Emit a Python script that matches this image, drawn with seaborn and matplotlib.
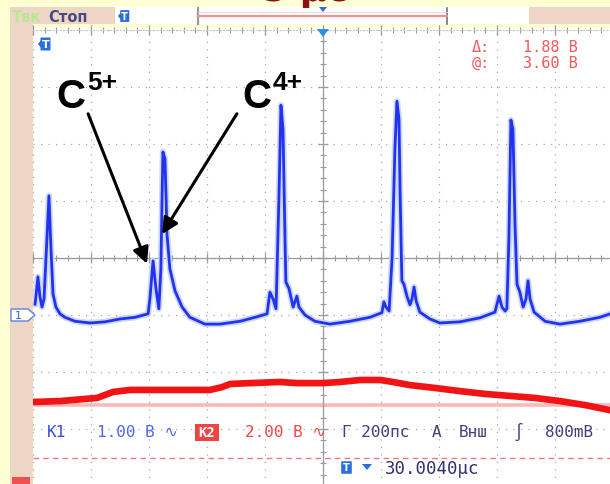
import matplotlib
matplotlib.use("Agg")
import matplotlib.pyplot as plt
import numpy as np
import pandas as pd
import seaborn as sns
from matplotlib.patches import Rectangle, Polygon, FancyBboxPatch
from matplotlib.ticker import MultipleLocator

# Channel 1 (blue): time in ns relative to trigger, voltage in V relative to CH1 ground
ch1_time_ns = [-993, -990, -983, -976, -969, -962, -952, -945, -938, -931, -921, -907,
               -890, -855, -803, -752, -700, -648, -603, -597, -586, -576, -566, -559,
               -555, -552, -545, -541, -538, -528, -510, -486, -459, -407, -355, -286,
               -234, -193, -183, -172, -162, -152, -145, -138, -131, -128, -117, -103,
               -90, -83, -62, -28, 24, 93, 162, 203, 210, 217, 228, 238, 248, 255, 262,
               266, 272, 279, 290, 300, 307, 314, 321, 334, 369, 403, 472, 541, 593,
               607, 617, 628, 634, 641, 648, 655, 662, 669, 679, 690, 700, 707, 714,
               728, 766, 817, 886, 955, 990]
ch1_volts = [0.19, 0.32, 0.67, 0.32, 0.14, 0.28, 1.33, 2.09, 1.16, 0.37, 0.14, 0.02,
             -0.04, -0.11, -0.14, -0.12, -0.07, -0.04, 0.02, 0.28, 0.95, 0.46, 0.11, 0.81,
             2.04, 2.86, 2.74, 2.04, 1.42, 0.81, 0.42, 0.14, -0.04, -0.16, -0.16, -0.11,
             -0.04, 0.02, 0.40, 0.28, 0.11, 2.04, 3.68, 3.26, 1.33, 0.58, 0.46, 0.14,
             0.33, 0.14, 0.00, -0.11, -0.16, -0.11, -0.04, 0.04, 0.23, 0.14, 0.07, 0.98,
             2.91, 3.75, 3.44, 2.12, 0.60, 0.54, 0.32, 0.18, 0.28, 0.49, 0.25, 0.05,
             -0.07, -0.14, -0.12, -0.05, 0.05, 0.33, 0.14, 0.07, 0.11, 1.33, 3.42, 3.26,
             1.60, 0.54, 0.40, 0.14, 0.28, 0.60, 0.28, 0.05, -0.11, -0.16, -0.11, -0.04,
             0.02]

# Channel 2 (red): time in ns, voltage in V relative to CH2 ground
ch2_time_ns = [-993, -907, -779, -724, -666, -493, -390, -348, -321, -252, -148, -90, 0,
               59, 128, 197, 241, 300, 386, 472, 559, 645, 731, 817, 903, 990]
ch2_volts = [0.11, 0.14, 0.25, 0.46, 0.53, 0.53, 0.53, 0.63, 0.74, 0.77, 0.81, 0.77, 0.77,
             0.81, 0.88, 0.88, 0.81, 0.70, 0.60, 0.49, 0.39, 0.32, 0.25, 0.14, 0.00, -0.18]

ch1_v_per_div = 1.0
ch2_v_per_div = 2.0
ch1_ground_div = -1.0
ch2_ground_div = -2.58
trigger_level_div = -3.51
time_per_div_ns = 200

# ---------------- figure ----------------
W, H = 610, 485
plt.rcParams['font.family'] = ['DejaVu Sans']
fig = plt.figure(figsize=(W / 100, H / 100), dpi=100, facecolor='#FFFFD4')

bg = fig.add_axes([0, 0, 1, 1], zorder=0)
bg.set_xlim(0, W); bg.set_ylim(H, 0); bg.axis('off')

BEIGE = '#EDD6C6'
bg.add_patch(Rectangle((10, 8), 600, 17, facecolor=BEIGE, edgecolor='none'))
bg.add_patch(Rectangle((10, 8), 23, 477, facecolor=BEIGE, edgecolor='none'))
bg.add_patch(Rectangle((115, 8), 414, 17, facecolor='white', edgecolor='none'))
bg.add_patch(Rectangle((33, 29), 577, 456, facecolor='white', edgecolor='none'))

# ---------------- main scope axes ----------------
ax = fig.add_axes([33 / W, -2 / H, 580 / W, 456 / H], zorder=1)
ax.set_facecolor('white')
ax.set_xlim(-5 * time_per_div_ns, 5 * time_per_div_ns)
ax.set_ylim(-4, 4)

ax.xaxis.set_major_locator(MultipleLocator(time_per_div_ns))
ax.xaxis.set_minor_locator(MultipleLocator(time_per_div_ns / 5))
ax.yaxis.set_major_locator(MultipleLocator(1))
ax.yaxis.set_minor_locator(MultipleLocator(0.2))
ax.grid(True, which='major', color='#A8A8A8', linestyle=(0, (1, 5)), linewidth=0.9)
ax.spines['right'].set_visible(False)
ax.spines['left'].set_position(('data', 0))
ax.spines['bottom'].set_position(('data', 0))
for s in ['left', 'bottom']:
    ax.spines[s].set_color('#9A9A9A')
    ax.spines[s].set_linewidth(0.9)
ax.spines['top'].set_color('#C8C8C8')
ax.spines['top'].set_linestyle((0, (1, 2)))
ax.tick_params(which='both', bottom=True, left=True, top=True, right=False,
               labelbottom=False, labelleft=False, color='#9A9A9A')
ax.tick_params(which='major', direction='inout', length=7, width=0.9)
ax.tick_params(which='minor', direction='inout', length=4, width=0.8)

df1 = pd.DataFrame({'t': ch1_time_ns,
                    'div': np.array(ch1_volts) / ch1_v_per_div + ch1_ground_div})
df2 = pd.DataFrame({'t': ch2_time_ns,
                    'div': np.array(ch2_volts) / ch2_v_per_div + ch2_ground_div})

# CH2 reference line and trigger level
ax.axhline(ch2_ground_div, color='#FFB8B8', lw=2.6, zorder=2)
ax.axhline(trigger_level_div, color='#F07878', lw=1.0, ls=(0, (4, 3)), zorder=2)

sns.lineplot(data=df2, x='t', y='div', ax=ax, color='#F01414', lw=4.8, sort=False,
             estimator=None, zorder=4)
sns.lineplot(data=df1, x='t', y='div', ax=ax, color='#CBD8F7', lw=4.5, sort=False,
             estimator=None, zorder=4)
sns.lineplot(data=df1, x='t', y='div', ax=ax, color='#2232EE', lw=2.0, sort=False,
             estimator=None, zorder=5)
ax.set_xlabel(''); ax.set_ylabel('')
if ax.get_legend():
    ax.get_legend().remove()

# annotation arrows
arrow_kw = dict(arrowstyle='-|>', color='black', lw=2.2, mutation_scale=24,
                shrinkA=0, shrinkB=0)
ax.annotate('', xy=(-607, -0.10), xytext=(-810, 2.53), arrowprops=arrow_kw, zorder=6)
ax.annotate('', xy=(-555, 0.42), xytext=(-297, 2.53), arrowprops=arrow_kw, zorder=6)

# ---------------- overlay (texts / icons) ----------------
ov = fig.add_axes([0, 0, 1, 1], zorder=3)
ov.set_xlim(0, W); ov.set_ylim(H, 0); ov.axis('off')
ov.patch.set_alpha(0)

# title cut off at the top edge, as in the capture
ov.text(305, 1, '5 μс', color='#8B1010', fontsize=26, fontweight='bold',
        ha='center', va='baseline', clip_on=False)

# top bar contents
ov.text(12, 17, 'Твк', color='#B8E890', fontsize=10.5, fontweight='bold', va='center')
ov.text(48, 17, 'Стоп', color='#4A4A80', fontsize=10.5, fontweight='bold', va='center')


def t_icon(x, y, size=1.0):
    ov.add_patch(FancyBboxPatch((x + 3 * size, y - 6 * size), 9 * size, 12 * size,
                                boxstyle='round,pad=0.5', facecolor='#2A6FE0',
                                edgecolor='none'))
    ov.add_patch(Polygon([(x, y), (x + 4 * size, y - 5 * size), (x + 4 * size, y + 5 * size)],
                         closed=True, facecolor='#2A6FE0', edgecolor='none'))
    ov.text(x + 7.5 * size, y + 0.5, 'T', color='white', fontsize=8 * size,
            fontweight='bold', ha='center', va='center')


t_icon(118, 17, 0.9)
t_icon(38, 45, 1.0)

# horizontal position bracket
ov.plot([198, 198], [9, 25], color='#9A9A9A', lw=1.6)
ov.plot([447, 447], [9, 25], color='#707080', lw=1.2)
ov.plot([198, 447], [17, 17], color='#F29090', lw=1.6)
ov.plot([198, 447], [13, 13], color='#F0D0D0', lw=0.6)
ov.add_patch(Polygon([(319, 8), (327, 8), (323, 13)], closed=True,
                     facecolor='#2A6FE0', edgecolor='none'))
ov.add_patch(Polygon([(317, 30), (329, 30), (323, 38)], closed=True,
                     facecolor='#2A8FE8', edgecolor='none'))

# cursor readouts
mono = ['DejaVu Sans Mono', 'DejaVu Sans']
ov.text(472, 47, 'Δ:', color='#F05A5A', fontsize=11, va='center', family=mono)
ov.text(578, 47, '1.88 B', color='#F05A5A', fontsize=11, va='center', ha='right', family=mono)
ov.text(472, 63, '@:', color='#F05A5A', fontsize=11, va='center', family=mono)
ov.text(578, 63, '3.60 B', color='#F05A5A', fontsize=11, va='center', ha='right', family=mono)

# ion labels
lab = dict(color='black', fontweight='bold', family=['Liberation Sans', 'DejaVu Sans'])
ov.text(56, 108, 'C', fontsize=29, va='baseline', **lab)
ov.text(87, 90, '5+', fontsize=19, va='baseline', **lab)
ov.text(242, 108, 'C', fontsize=29, va='baseline', **lab)
ov.text(273, 90, '4+', fontsize=19, va='baseline', **lab)

# channel 1 marker
ov.add_patch(Polygon([(11, 310), (28, 310), (35, 316), (28, 322), (11, 322)], closed=True,
                     facecolor='white', edgecolor='#5A86E0', lw=1.0))
ov.text(18, 316.5, '1', color='#3A5AD0', fontsize=8, ha='center', va='center')

# bottom status row
ov.text(47, 433, 'K1', color='#3A48E0', fontsize=11.5, va='center', family=mono)
ov.text(97, 433, '1.00 B ∿', color='#5466F0', fontsize=11.5, va='center', family=mono)
ov.add_patch(Rectangle((195, 425), 24, 17, facecolor='#F04444', edgecolor='none'))
ov.text(207, 433.5, 'K2', color='white', fontsize=10, ha='center', va='center',
        fontweight='bold', family=mono)
ov.text(245, 433, '2.00 B ∿', color='#F04848', fontsize=11.5, va='center', family=mono)
ov.text(342, 433, 'Г 200пс', color='#40407A', fontsize=11.5, va='center', family=mono)
ov.text(432, 433, 'A', color='#40407A', fontsize=11.5, va='center', family=mono)
ov.text(459, 433, 'Внш', color='#40407A', fontsize=11.5, va='center', family=mono)
ov.text(514, 433, '∫', color='#40407A', fontsize=12, va='center', family=mono)
ov.text(545, 433, '800mB', color='#40407A', fontsize=11.5, va='center', family=mono)

# trigger time offset
ov.add_patch(FancyBboxPatch((342, 463), 9, 11, boxstyle='round,pad=0.8',
                            facecolor='#2A6FE0', edgecolor='none'))
ov.text(346.5, 468.5, 'T', color='white', fontsize=7, fontweight='bold',
        ha='center', va='center')
ov.add_patch(Polygon([(362, 465), (372, 465), (367, 471)], closed=True,
                     facecolor='#2A6FE0', edgecolor='none'))
ov.text(385, 469, '30.0040μс', color='#30306E', fontsize=12.5, va='center', family=mono)

# small red icon at bottom left
ov.add_patch(Rectangle((12, 478), 18, 8, facecolor='#F05050', edgecolor='none'))

fig.savefig('out.png', dpi=100, facecolor=fig.get_facecolor())
